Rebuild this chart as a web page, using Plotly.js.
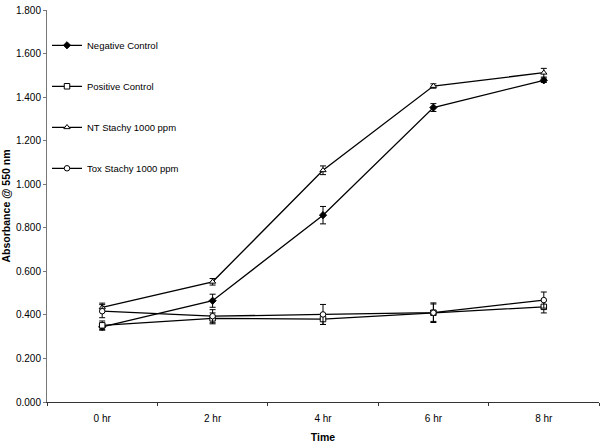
<!DOCTYPE html>
<html>
<head>
<meta charset="utf-8">
<script src="https://cdn.plot.ly/plotly-3.0.1.min.js"></script>
<style>
  html, body { margin: 0; padding: 0; background: #fff; }
  #chart { width: 603px; height: 444px; }
</style>
</head>
<body>
<div id="chart"></div>
<script>
// Time points (x axis categories)
const times = ['0 hr', '2 hr', '4 hr', '6 hr', '8 hr'];

// Absorbance @ 550 nm
const negativeControl = [0.345, 0.465, 0.858, 1.352, 1.477];
const negativeErr     = [0.015, 0.030, 0.040, 0.018, 0.010];

const positiveControl = [0.352, 0.384, 0.381, 0.410, 0.437];
const positiveErr     = [0.020, 0.025, 0.025, 0.045, 0.028];

const ntStachy = [0.434, 0.552, 1.064, 1.451, 1.512];
const ntErr    = [0.020, 0.015, 0.020, 0.010, 0.020];

const toxStachy = [0.417, 0.394, 0.402, 0.410, 0.468];
const toxErr    = [0.030, 0.030, 0.046, 0.040, 0.037];

const yTicks = [0, 0.2, 0.4, 0.6, 0.8, 1.0, 1.2, 1.4, 1.6, 1.8];

function series(name, y, err, symbol, fill, size, group) {
    return {
        x: times,
        y: y,
        name: name,
        legendgroup: group,
        type: 'scatter',
        mode: 'lines+markers',
        line: { color: '#000', width: 1.3 },
        marker: {
            symbol: symbol,
            size: size,
            color: fill,
            line: { color: '#000', width: 1 }
        },
        error_y: {
            type: 'data',
            array: err,
            visible: true,
            color: '#000',
            thickness: 1,
            width: 3
        }
    };
}

const data = [
    series('Negative Control', negativeControl, negativeErr, 'diamond', '#000', 5.5, 'a'),
    series('Positive Control', positiveControl, positiveErr, 'square', '#fff', 5.5, 'b'),
    series('NT Stachy 1000 ppm', ntStachy, ntErr, 'triangle-up', '#fff', 5.5, 'c'),
    series('Tox Stachy 1000 ppm', toxStachy, toxErr, 'circle', '#fff', 5.5, 'd')
];

const layout = {
    width: 603,
    height: 444,
    margin: { l: 47, r: 4, t: 10, b: 42 },
    paper_bgcolor: '#fff',
    plot_bgcolor: '#fff',
    font: { family: 'Liberation Sans, Arial, sans-serif', size: 10, color: '#000' },
    showlegend: true,
    legend: {
        x: 0.0,
        y: 0.947,
        xanchor: 'left',
        yanchor: 'top',
        bgcolor: 'rgba(0,0,0,0)',
        font: { size: 9.5 },
        traceorder: 'grouped',
        tracegroupgap: 22,
        itemwidth: 30
    },
    xaxis: {
        type: 'category',
        range: [-0.5, 4.5],
        showline: true,
        linecolor: '#333',
        linewidth: 1,
        showgrid: false,
        zeroline: false,
        ticks: 'outside',
        ticklen: 3,
        tickcolor: '#333',
        tickson: 'boundaries',
        ticklabelstandoff: 7,
        tickfont: { size: 10 },
        title: { text: '<b>Time</b>', font: { size: 10.5 }, standoff: 10 }
    },
    yaxis: {
        range: [0, 1.8],
        tickvals: yTicks,
        tickformat: '.3f',
        showline: true,
        linecolor: '#777',
        linewidth: 1,
        showgrid: false,
        zeroline: false,
        ticks: 'outside',
        ticklen: 3,
        tickcolor: '#777',
        tickfont: { size: 10 },
        title: { text: '<b>Absorbance @ 550 nm</b>', font: { size: 10.5 }, standoff: 6 }
    }
};

Plotly.newPlot('chart', data, layout, { displayModeBar: false, staticPlot: true });
</script>
</body>
</html>
